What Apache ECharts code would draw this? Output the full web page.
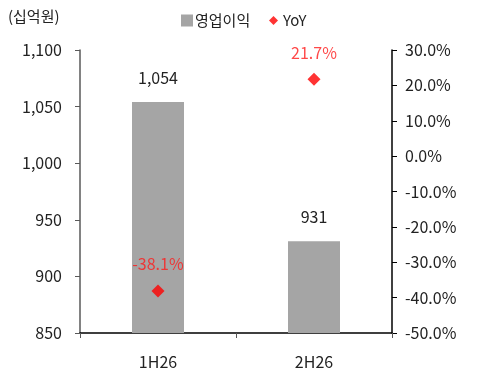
<!DOCTYPE html>
<html><head><meta charset="utf-8">
<script src="https://cdn.jsdelivr.net/npm/echarts@6/dist/echarts.min.js"></script>
<style>html,body{margin:0;padding:0;background:#fff}#c{width:477px;height:374px}</style>
</head><body><div id="c"></div>
<script>
const categories = ['1H26', '2H26'];
const profit = [1054, 931];
const profitLabels = ['1,054', '931'];
const yoy = [-38.1, 21.7];
const leftTicks = [850, 1100, 50];
const rightTicks = [-50, 30, 10];

const FONT = '"Noto Sans CJK KR", "Noto Sans", sans-serif';
const chart = echarts.init(document.getElementById('c'));
chart.setOption({
  animation: false,
  textStyle: { fontFamily: FONT },
  grid: { left: 80, right: 85, top: 50, bottom: 41 },
  graphic: [{ type: 'text', left: 8, top: 9, style: { text: '(십억원)', font: '15px ' + FONT, fill: '#222' } }],
  legend: [
    { data: [{ name: '영업이익', icon: 'rect' }], left: 176, top: 8, itemWidth: 12, itemHeight: 12, itemGap: 4,
      textStyle: { fontSize: 15, color: '#222', fontFamily: FONT, padding: [0, 0, 0, -3] } },
    { data: [{ name: 'YoY', icon: 'diamond' }], left: 264, top: 8, itemWidth: 9, itemHeight: 9,
      textStyle: { fontSize: 15, color: '#222', fontFamily: FONT } }
  ],
  xAxis: {
    type: 'category', data: categories,
    axisLine: { onZero: false, lineStyle: { color: '#000', width: 1.5 } },
    axisTick: { show: true, length: 5, lineStyle: { color: '#555' } },
    axisLabel: { color: '#222', fontSize: 16, margin: 21, fontFamily: FONT }
  },
  yAxis: [
    { type: 'value', min: leftTicks[0], max: leftTicks[1], interval: leftTicks[2],
      splitLine: { show: false },
      axisLine: { show: true, lineStyle: { color: '#595959', width: 1.5 } },
      axisTick: { show: true, length: 5, lineStyle: { color: '#595959' } },
      axisLabel: { color: '#222', fontSize: 16, margin: 18, fontFamily: FONT,
        formatter: v => v.toLocaleString('en-US') } },
    { type: 'value', min: rightTicks[0], max: rightTicks[1], interval: rightTicks[2],
      splitLine: { show: false },
      axisLine: { show: true, lineStyle: { color: '#000', width: 1.5 } },
      axisTick: { show: true, length: 5, lineStyle: { color: '#000' } },
      axisLabel: { color: '#222', fontSize: 16, margin: 13, fontFamily: FONT,
        formatter: v => v.toFixed(1) + '%' } }
  ],
  series: [
    { name: '영업이익', type: 'bar', data: profit, barWidth: 52, yAxisIndex: 0,
      itemStyle: { color: '#a5a5a5' },
      label: { show: true, position: 'top', distance: 16, color: '#222', fontSize: 16, fontFamily: FONT,
        formatter: p => profitLabels[p.dataIndex] } },
    { name: 'YoY', type: 'scatter', data: yoy, yAxisIndex: 1, symbol: 'diamond', symbolSize: 13,
      itemStyle: { color: '#ff0000' },
      label: { show: true, position: 'top', distance: 12, color: '#ff1a1a', fontSize: 16, fontFamily: FONT,
        formatter: p => p.value.toFixed(1) + '%' } }
  ]
});
</script></body></html>
